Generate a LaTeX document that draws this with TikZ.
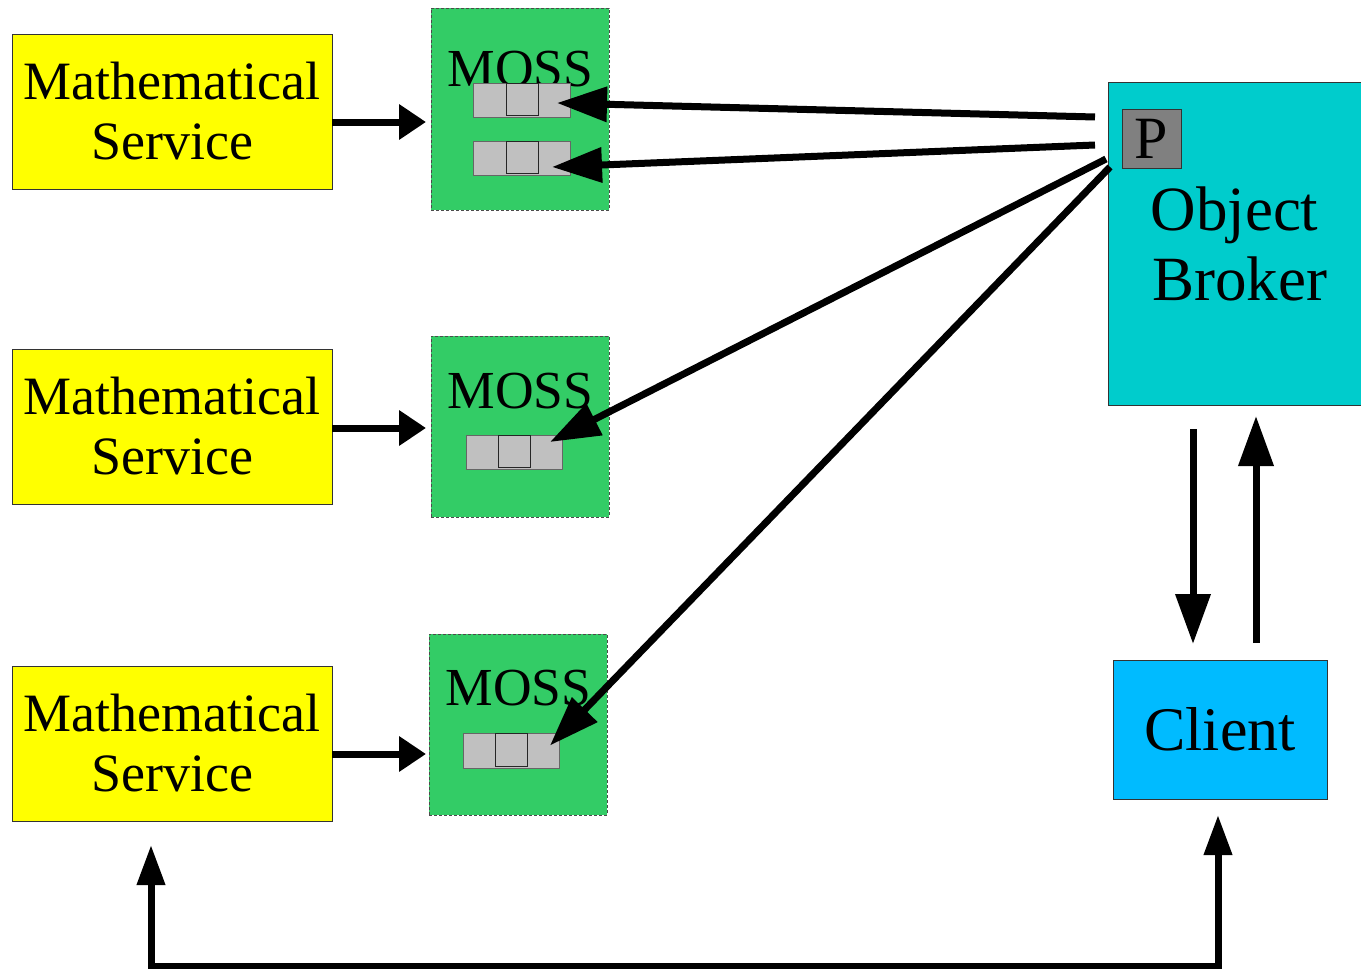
\documentclass[tikz,border=0pt]{standalone}
\usepackage{fontspec}
\setmainfont{Liberation Serif}
\usetikzlibrary{arrows.meta,calc}
\definecolor{yel}{RGB}{255,255,0}
\definecolor{grn}{RGB}{51,204,102}
\definecolor{cyn}{RGB}{0,204,204}
\definecolor{cli}{RGB}{0,187,255}
\definecolor{cellgray}{RGB}{192,192,192}
\definecolor{pgray}{RGB}{128,128,128}
\tikzset{
  boxbase/.style={anchor=north west, inner sep=0pt, outer sep=0pt, line width=0.8pt, draw=black!80, align=center},
  msbox/.style={boxbase, fill=yel, minimum width=320pt, minimum height=155pt, font=\fontsize{54}{60}\selectfont},
  mossbox/.style={boxbase, fill=grn, draw=black!70, dash pattern=on 3pt off 2pt, minimum width=178pt},
  mosslabel/.style={inner sep=0pt, font=\fontsize{53.5}{60}\selectfont},
  slotbox/.style={boxbase, fill=cellgray, draw=black!60, minimum width=97pt, minimum height=34pt},
  midcell/.style={boxbase, fill=cellgray, draw=black!85, minimum width=32pt, minimum height=32pt},
  arr/.style={line width=7pt, -{Triangle[length=27pt,width=34pt]}},
  bigarr/.style={line width=7pt, -{Triangle[length=50pt,width=34pt]}},
  botarr/.style={line width=7pt, {Triangle[length=40pt,width=27pt]}-{Triangle[length=40pt,width=27pt]}},
}
\begin{document}
\begin{tikzpicture}[x=1pt,y=-1pt]
\useasboundingbox (0,0) rectangle (1361,969);
% mathematical services
\node[msbox] (y1) at (12,34) {Mathematical\\Service};
\node[msbox] (y2) at (12,349) {Mathematical\\Service};
\node[msbox] (y3) at (12,666) {Mathematical\\Service};
% MOSS boxes
\node[mossbox, minimum height=202pt] (m1) at (431,8) {};
\node[mossbox, minimum height=181pt] (m2) at (431,336) {};
\node[mossbox, minimum height=181pt] (m3) at (429,634) {};
\node[mosslabel] (l1) at (520.5,69) {MOSS};
\node[mosslabel] (l2) at (520.5,391) {MOSS};
\node[mosslabel] (l3) at (518.5,688) {MOSS};
% slots
\node[slotbox] (s1a) at (473,83) {};
\node[midcell] (c1a) at (506,83) {};
\node[slotbox] (s1b) at (473,141) {};
\node[midcell] (c1b) at (506,141) {};
\node[slotbox, minimum width=96pt] (s2) at (466,435) {};
\node[midcell] (c2) at (498,435) {};
\node[slotbox, minimum width=96pt, minimum height=35pt] (s3) at (463,733) {};
\node[midcell, minimum height=33pt] (c3) at (495,733) {};
% object broker
\node[boxbase, fill=cyn, minimum width=253pt, minimum height=323pt, font=\fontsize{63}{70}\selectfont] (ob) at (1108,82) {Object\\ \,Broker};
\node[boxbase, fill=pgray, minimum width=59pt, minimum height=59pt, font=\fontsize{60}{60}\selectfont] (p) at (1122,109) {P};
% client
\node[boxbase, fill=cli, minimum width=214pt, minimum height=139pt, font=\fontsize{62}{70}\selectfont] (cl) at (1113,660) {Client};
% service -> MOSS arrows
\coordinate (r1) at (0,122);
\coordinate (r2) at (0,428);
\coordinate (r3) at (0,754);
\draw[arr] (y1.east |- r1) -- ([xshift=-5pt]m1.west |- r1);
\draw[arr] (y2.east |- r2) -- ([xshift=-5pt]m2.west |- r2);
\draw[arr] (y3.east |- r3) -- ([xshift=-3pt]m3.west |- r3);
% broker -> slots
\coordinate (o1) at ($(ob.north west)+(-13,35)$);
\coordinate (o2) at ($(ob.north west)+(-13,63)$);
\coordinate (o3) at ($(ob.north west)+(-2,77)$);
\coordinate (o4) at ($(ob.north west)+(2,85)$);
\draw[bigarr] (o1) -- ([shift={(-13,3)}]s1a.east);
\draw[bigarr] (o2) -- ([shift={(-18,9)}]s1b.east);
\draw[bigarr] (o3) -- ([shift={(-12,-10)}]s2.east);
\draw[bigarr] (o4) -- ([shift={(-9,-5)}]s3.east);
% broker <-> client
\path (ob.south) ++(-41.5,24) coordinate (d1);
\path (cl.north) ++(36,-17) coordinate (u1);
\draw[bigarr, shorten >=16pt] (d1) -- (d1 |- cl.north);
\draw[bigarr, shorten >=11pt] (u1) -- (u1 |- ob.south);
% bottom return path
\coordinate (bl) at (151,966);
\coordinate (br) at (1218,966);
\draw[botarr, shorten <=24pt, shorten >=16pt] (bl |- y3.south) -- (bl) -- (br) -- (br |- cl.south);
\end{tikzpicture}
\end{document}
